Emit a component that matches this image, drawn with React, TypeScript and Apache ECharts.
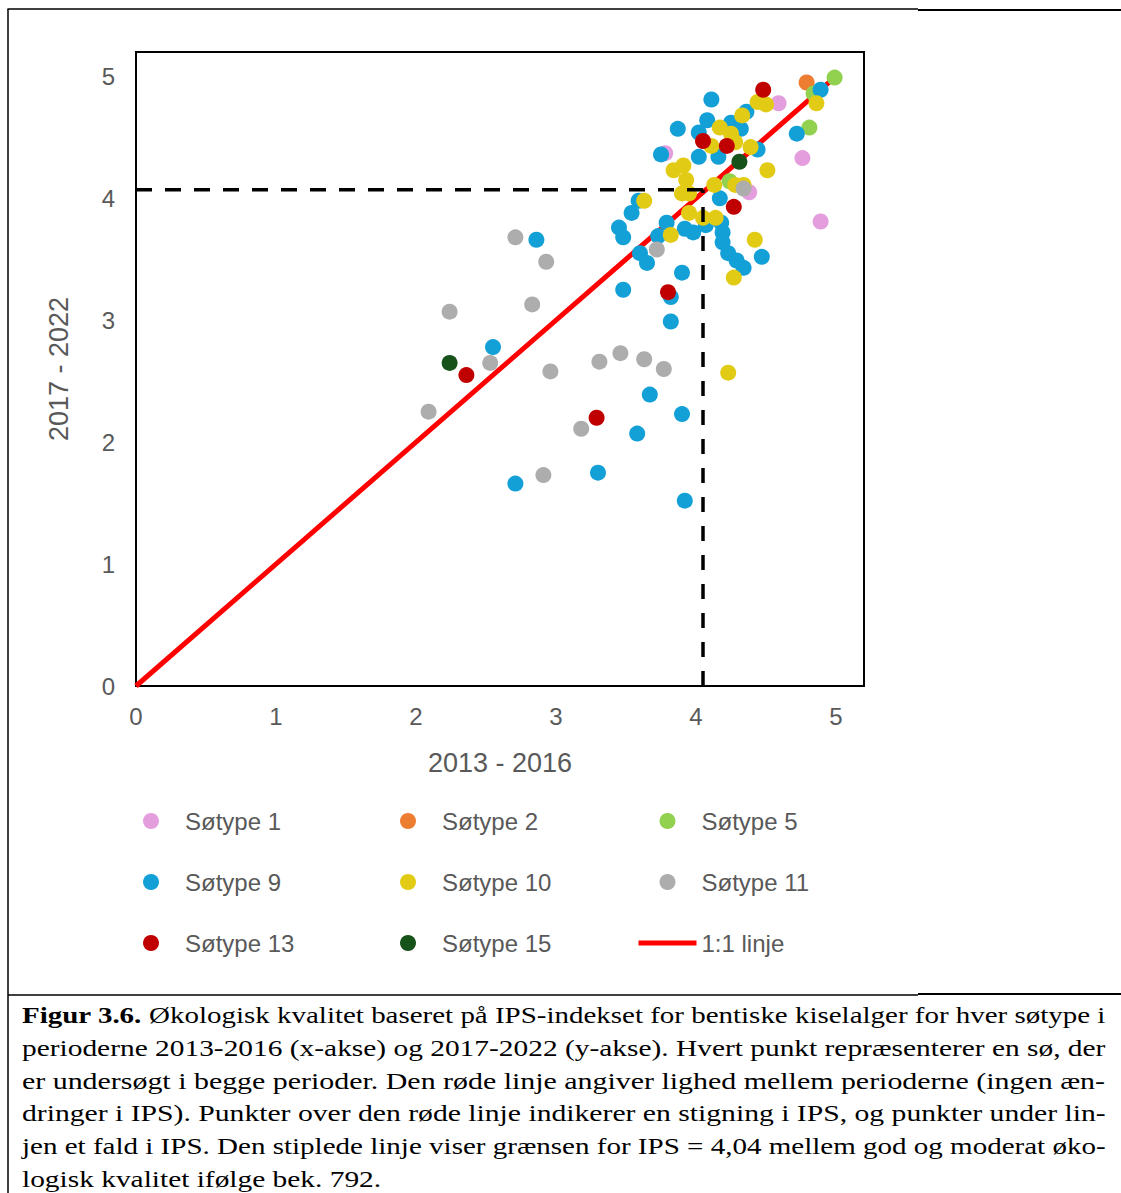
import React, { useEffect, useRef } from "react";
import * as echarts from "echarts";

const xAxisName = "2013 - 2016";
const yAxisName = "2017 - 2022";
const axisMin = 0;
const axisMax = 5.2;
const axisInterval = 1;

const seriesNames = ["Søtype 1", "Søtype 2", "Søtype 5", "Søtype 9", "Søtype 10", "Søtype 11", "Søtype 13", "Søtype 15"];
const seriesColors = ["#E59EDD", "#ED7D31", "#92D050", "#12A0D7", "#E2CB14", "#ADADAD", "#C00000", "#17521B"];

const sotype1 = [[4.59, 4.78], [4.76, 4.33], [4.89, 3.81], [4.38, 4.05], [3.78, 4.37]];
const sotype2 = [[4.79, 4.95]];
const sotype5 = [[4.99, 4.99], [4.81, 4.58], [4.84, 4.86], [4.24, 4.14]];
const sotype9 = [
  [2.86, 3.66], [2.55, 2.78], [2.71, 1.66], [3.3, 1.75], [3.58, 2.07], [3.67, 2.39], [3.9, 2.23], [3.92, 1.52],
  [3.48, 3.25], [3.9, 3.39], [3.82, 3.19], [3.82, 2.99], [3.45, 3.76], [3.48, 3.68], [3.54, 3.88], [3.59, 3.98],
  [3.6, 3.55], [3.65, 3.47], [3.73, 3.69], [3.79, 3.8], [3.92, 3.75], [3.98, 3.72], [4.07, 3.78], [4.18, 3.8],
  [4.19, 3.72], [4.19, 3.64], [4.23, 3.55], [4.29, 3.49], [4.34, 3.43], [4.47, 3.52], [4.17, 4.0], [4.11, 4.81],
  [4.08, 4.64], [3.87, 4.57], [4.02, 4.54], [4.25, 4.62], [4.32, 4.57], [4.36, 4.71], [3.75, 4.36], [4.02, 4.34],
  [4.16, 4.34], [4.44, 4.4], [4.89, 4.89], [4.72, 4.53],
];
const sotype10 = [
  [4.44, 4.79], [4.5, 4.77], [4.86, 4.78], [4.33, 4.68], [4.17, 4.58], [4.25, 4.53], [4.11, 4.43], [4.28, 4.46],
  [4.39, 4.42], [4.51, 4.23], [3.84, 4.23], [3.91, 4.27], [3.93, 4.15], [3.95, 4.04], [4.13, 4.11], [4.28, 4.11],
  [4.34, 4.11], [3.63, 3.98], [3.95, 3.88], [4.05, 3.84], [4.14, 3.84], [3.82, 3.7], [4.42, 3.66], [4.27, 3.35],
  [4.23, 2.57], [3.9, 4.04],
];
const sotype11 = [
  [2.71, 3.68], [2.93, 3.48], [2.24, 3.07], [2.83, 3.13], [2.53, 2.65], [2.96, 2.58], [2.09, 2.25], [3.31, 2.66],
  [3.46, 2.73], [3.63, 2.68], [3.77, 2.6], [3.18, 2.11], [2.91, 1.73], [3.72, 3.58], [4.34, 4.08],
];
const sotype13 = [[2.36, 2.55], [3.29, 2.2], [3.8, 3.23], [4.48, 4.89], [4.05, 4.47], [4.22, 4.43], [4.27, 3.93]];
const sotype15 = [[2.24, 2.65], [4.31, 4.3]];

const seriesData = [sotype1, sotype2, sotype5, sotype9, sotype10, sotype11, sotype13, sotype15];

const oneToOneName = "1:1 linje";
const oneToOneLine = [[0, 0], [4.95, 4.95]];
const thresholdX = 4.05;
const thresholdY = 4.07;

const captionBold = "Figur 3.6.";
const captionLines = [
  " Økologisk kvalitet baseret på IPS-indekset for bentiske kiselalger for hver søtype i",
  "perioderne 2013-2016 (x-akse) og 2017-2022 (y-akse). Hvert punkt repræsenterer en sø, der",
  "er undersøgt i begge perioder. Den røde linje angiver lighed mellem perioderne (ingen æn-",
  "dringer i IPS). Punkter over den røde linje indikerer en stigning i IPS, og punkter under lin-",
  "jen et fald i IPS. Den stiplede linje viser grænsen for IPS = 4,04 mellem god og moderat øko-",
  "logisk kvalitet ifølge bek. 792.",
];

const sans = "'Liberation Sans', Arial, sans-serif";
const serifName = "Liberation Serif";
const serif = "'Liberation Serif', 'Times New Roman', serif";
const textGray = "#595959";

export default function App() {
  const ref = useRef<HTMLDivElement>(null);
  useEffect(() => {
    document.body.style.margin = "0";
    if (!ref.current) return;
    const chart = echarts.init(ref.current, undefined, { renderer: "svg" });

    const ctx = document.createElement("canvas").getContext("2d")!;
    const measure = (t: string, bold: boolean) => {
      ctx.font = `${bold ? "bold " : ""}24px '${serifName}'`;
      return ctx.measureText(t).width;
    };
    const captionLeft = 22;
    const captionWidth = 1084;
    const widths = captionLines.map((t, i) => (i === 0 ? measure(captionBold, true) : 0) + measure(t, false));
    const scales = widths.map((w) => captionWidth / w);
    const avgScale = scales.slice(0, 5).reduce((a, b) => a + b, 0) / 5;
    scales[5] = avgScale;

    const scatterSeries = seriesNames.map((name, i) => ({
      name,
      type: "scatter",
      data: seriesData[i],
      symbol: "circle",
      symbolSize: 16,
      itemStyle: { color: seriesColors[i], opacity: 1 },
      z: 3,
    }));

    const legendText = { color: textGray, fontSize: 24, fontFamily: sans, lineHeight: 24 };
    const legendCommon = {
      orient: "vertical",
      top: 804,
      itemWidth: 58,
      itemHeight: 16,
      itemGap: 37,
      textStyle: legendText,
      selectedMode: false,
    };
    const dot = (name: string) => ({ name, icon: "circle" });

    const option: any = {
      animation: false,
      backgroundColor: "#fff",
      grid: {
        left: 136,
        top: 52,
        width: 728,
        height: 634,
        show: true,
        borderColor: "#000",
        borderWidth: 2,
        backgroundColor: "transparent",
      },
      xAxis: {
        type: "value",
        min: axisMin,
        max: axisMax,
        interval: axisInterval,
        axisLine: { show: false },
        axisTick: { show: false },
        splitLine: { show: false },
        axisLabel: {
          formatter: (v: number) => (Number.isInteger(v) ? String(v) : ""),
          color: textGray,
          fontSize: 24,
          fontFamily: sans,
          margin: 18,
        },
        name: xAxisName,
        nameLocation: "middle",
        nameGap: 63,
        nameTextStyle: { color: textGray, fontSize: 27, fontFamily: sans },
      },
      yAxis: {
        type: "value",
        min: axisMin,
        max: axisMax,
        interval: axisInterval,
        axisLine: { show: false },
        axisTick: { show: false },
        splitLine: { show: false },
        axisLabel: {
          formatter: (v: number) => (Number.isInteger(v) ? String(v) : ""),
          color: textGray,
          fontSize: 24,
          fontFamily: sans,
          margin: 21,
        },
        name: yAxisName,
        nameLocation: "middle",
        nameGap: 64,
        nameTextStyle: { color: textGray, fontSize: 27, fontFamily: sans },
      },
      legend: [
        { ...legendCommon, left: 138, data: [dot(seriesNames[0]), dot(seriesNames[3]), dot(seriesNames[6])] },
        { ...legendCommon, left: 395, data: [dot(seriesNames[1]), dot(seriesNames[4]), dot(seriesNames[7])] },
        {
          ...legendCommon,
          left: 631,
          lineStyle: { width: 5 },
          data: [
            dot(seriesNames[2]),
            dot(seriesNames[5]),
            { name: oneToOneName, itemStyle: { color: "rgba(0,0,0,0)", opacity: 0, borderWidth: 0 } },
          ],
        },
      ],
      series: [
        {
          name: oneToOneName,
          type: "line",
          data: oneToOneLine,
          symbol: "none",
          lineStyle: { color: "#FF0000", width: 5 },
          itemStyle: { color: "#FF0000" },
          z: 2,
        },
        ...scatterSeries,
        {
          name: "grænse-x",
          type: "line",
          data: [[axisMin, thresholdY], [thresholdX, thresholdY]],
          symbol: "none",
          lineStyle: { color: "#000", width: 3.5, type: [16, 13] },
          z: 4,
        },
        {
          name: "grænse-y",
          type: "line",
          data: [[thresholdX, axisMin], [thresholdX, thresholdY]],
          symbol: "none",
          lineStyle: { color: "#000", width: 3.5, type: [15, 14] },
          z: 4,
        },
      ],
      graphic: [
        { type: "line", shape: { x1: 7.5, y1: 9, x2: 918, y2: 9 }, style: { stroke: "#000", lineWidth: 1.5 } },
        { type: "line", shape: { x1: 918, y1: 10, x2: 1121, y2: 10 }, style: { stroke: "#000", lineWidth: 2 } },
        { type: "line", shape: { x1: 8, y1: 9, x2: 8, y2: 1193 }, style: { stroke: "#000", lineWidth: 1.5 } },
        { type: "line", shape: { x1: 8, y1: 995, x2: 918, y2: 995 }, style: { stroke: "#000", lineWidth: 1.5 } },
        { type: "line", shape: { x1: 918, y1: 994, x2: 1121, y2: 994 }, style: { stroke: "#000", lineWidth: 2 } },
        ...captionLines.map((t, i) => ({
          type: "text",
          x: captionLeft,
          y: 1015 + i * 32.8,
          scaleX: scales[i],
          style: {
            x: 0,
            y: 0,
            text: i === 0 ? `{b|${captionBold}}${t}` : t,
            fill: "#000",
            fontSize: 24,
            fontFamily: serif,
            textAlign: "left",
            textVerticalAlign: "middle",
            verticalAlign: "middle",
            rich: { b: { fontWeight: "bold", fontSize: 24, fontFamily: serif, fill: "#000" } },
          },
        })),
      ],
    };

    chart.setOption(option);
    return () => chart.dispose();
  }, []);

  return <div ref={ref} style={{ width: 1121, height: 1193 }} />;
}
